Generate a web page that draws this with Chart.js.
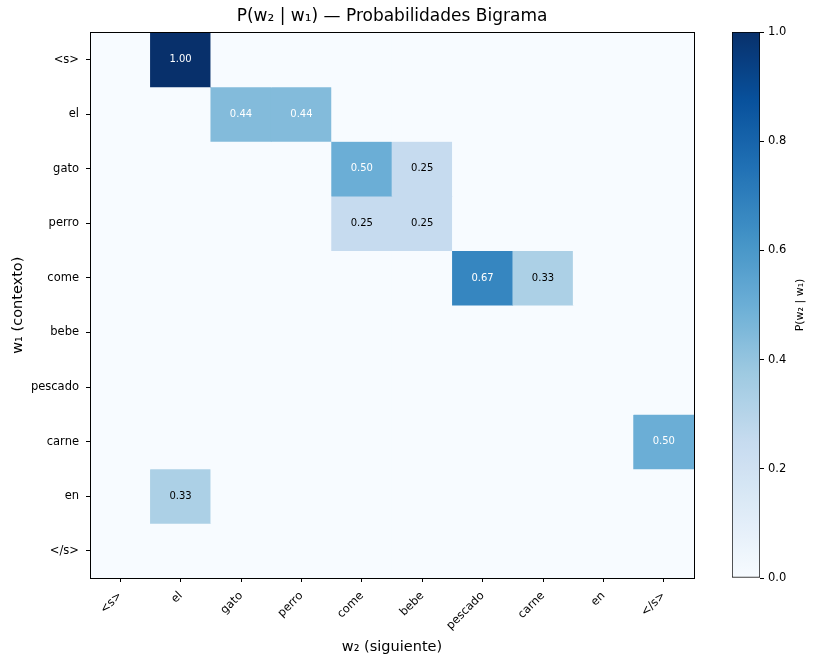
<!DOCTYPE html>
<html>
<head>
<meta charset="utf-8">
<script src="https://cdn.jsdelivr.net/npm/chart.js@4.4.0/dist/chart.umd.min.js"></script>
<style>
    html, body { margin: 0; padding: 0; background: #fff; }
    #wrap { position: relative; width: 817px; height: 662px; }
    #heat { position: absolute; left: 0; top: 0; }
    #cbar { position: absolute; left: 700px; top: 0; }
</style>
</head>
<body>
<div id="wrap">
    <canvas id="heat" width="817" height="662"></canvas>
    <canvas id="cbar" width="117" height="662"></canvas>
</div>
<script>
// Vocabulary (rows = w1 context, columns = w2 next word)
const words = ['<s>', 'el', 'gato', 'perro', 'come', 'bebe', 'pescado', 'carne', 'en', '</s>'];

// P(w2 | w1), one row per context word
const rowS       = [0, 1.00, 0, 0, 0, 0, 0, 0, 0, 0];
const rowEl      = [0, 0, 0.44, 0.44, 0, 0, 0, 0, 0, 0];
const rowGato    = [0, 0, 0, 0, 0.50, 0.25, 0, 0, 0, 0];
const rowPerro   = [0, 0, 0, 0, 0.25, 0.25, 0, 0, 0, 0];
const rowCome    = [0, 0, 0, 0, 0, 0, 0.67, 0.33, 0, 0];
const rowBebe    = [0, 0, 0, 0, 0, 0, 0, 0, 0, 0];
const rowPescado = [0, 0, 0, 0, 0, 0, 0, 0, 0, 0];
const rowCarne   = [0, 0, 0, 0, 0, 0, 0, 0, 0, 0.50];
const rowEn      = [0, 0.33, 0, 0, 0, 0, 0, 0, 0, 0];
const rowEnd     = [0, 0, 0, 0, 0, 0, 0, 0, 0, 0];
const probs = [rowS, rowEl, rowGato, rowPerro, rowCome, rowBebe, rowPescado, rowCarne, rowEn, rowEnd];

const colorbarTicks = [0, 0.2, 0.4, 0.6, 0.8, 1.0];

// matplotlib "Blues" colormap stops
const bluesStops = ['#f7fbff', '#deebf7', '#c6dbef', '#9ecae1', '#6baed6', '#4292c6', '#2171b5', '#08519c', '#08306b'];

function hexToRgb(h) {
    return [parseInt(h.slice(1, 3), 16), parseInt(h.slice(3, 5), 16), parseInt(h.slice(5, 7), 16)];
}

function blues(v) {
    const t = Math.max(0, Math.min(1, v)) * (bluesStops.length - 1);
    const i = Math.min(Math.floor(t), bluesStops.length - 2);
    const f = t - i;
    const a = hexToRgb(bluesStops[i]);
    const b = hexToRgb(bluesStops[i + 1]);
    const c = a.map((x, k) => Math.round(x + (b[k] - x) * f));
    return `rgb(${c[0]}, ${c[1]}, ${c[2]})`;
}

const FONT = "'DejaVu Sans', sans-serif";

// one floating-bar dataset per row, each bar spans one cell
const datasets = probs.map((row, r) => ({
    data: row.map(() => [r - 0.5, r + 0.5]),
    backgroundColor: row.map(v => blues(v)),
    borderWidth: 0,
    barPercentage: 1.0,
    categoryPercentage: 1.0,
    grouped: false
}));

// fill the plot with the zero colour, write cell values, draw the frame
const heatPlugin = {
    id: 'heatExtras',
    beforeDatasetsDraw(chart) {
        const { ctx, chartArea: a } = chart;
        ctx.save();
        ctx.fillStyle = blues(0);
        ctx.fillRect(a.left, a.top, a.right - a.left, a.bottom - a.top);
        ctx.restore();
    },
    afterDatasetsDraw(chart) {
        const { ctx, scales } = chart;
        ctx.save();
        ctx.font = '10px ' + FONT;
        ctx.textAlign = 'center';
        ctx.textBaseline = 'middle';
        probs.forEach((row, r) => {
            row.forEach((v, c) => {
                if (v <= 0) return;
                ctx.fillStyle = v > 0.4 ? '#ffffff' : '#000000';
                ctx.fillText(v.toFixed(2), scales.x.getPixelForValue(c), scales.y.getPixelForValue(r));
            });
        });
        ctx.restore();
    },
    afterDraw(chart) {
        const { ctx, chartArea: a } = chart;
        ctx.save();
        ctx.strokeStyle = '#000';
        ctx.lineWidth = 1;
        ctx.strokeRect(Math.round(a.left) + 0.5, Math.round(a.top) + 0.5,
            Math.round(a.right - a.left), Math.round(a.bottom - a.top));
        ctx.restore();
    }
};

new Chart(document.getElementById('heat'), {
    type: 'bar',
    data: { labels: words, datasets: datasets },
    options: {
        responsive: false,
        animation: false,
        layout: { padding: { left: 0, right: 123, top: 0, bottom: 0 } },
        scales: {
            x: {
                type: 'category',
                offset: true,
                grid: { display: true, drawOnChartArea: false, offset: false, color: '#000', tickLength: 4 },
                border: { display: false },
                ticks: {
                    color: '#000',
                    font: { family: FONT, size: 11.5 },
                    minRotation: 45,
                    maxRotation: 45,
                    autoSkip: false,
                    padding: 7
                },
                title: {
                    display: true,
                    text: 'w\u2082 (siguiente)',
                    color: '#000',
                    font: { family: FONT, size: 14.5 },
                    padding: { top: 4, bottom: 6 }
                },
                afterFit(scale) { scale.height = 84; }
            },
            y: {
                type: 'linear',
                reverse: true,
                min: -0.5,
                max: 9.5,
                grid: { display: true, drawOnChartArea: false, color: '#000', tickLength: 4 },
                border: { display: false },
                afterBuildTicks(scale) { scale.ticks = words.map((w, i) => ({ value: i })); },
                ticks: {
                    color: '#000',
                    font: { family: FONT, size: 11.5 },
                    padding: 7,
                    callback: v => words[v]
                },
                title: {
                    display: true,
                    text: 'w\u2081 (contexto)',
                    color: '#000',
                    font: { family: FONT, size: 14.5 },
                    padding: { top: 10, bottom: 0 }
                },
                afterFit(scale) { scale.width = 90; }
            }
        },
        plugins: {
            legend: { display: false },
            tooltip: { enabled: false },
            title: {
                display: true,
                fullSize: false,
                text: 'P(w\u2082 | w\u2081) \u2014 Probabilidades Bigrama',
                color: '#000',
                font: { family: FONT, size: 17, weight: 'normal' },
                padding: { top: 6, bottom: 6 }
            }
        }
    },
    plugins: [heatPlugin]
});

// colour bar: one floating bar filled with the colormap gradient
const cbarLabelPlugin = {
    id: 'cbarLabel',
    afterDraw(chart) {
        const { ctx, chartArea: a } = chart;
        ctx.save();
        ctx.translate(100, (a.top + a.bottom) / 2);
        ctx.rotate(-Math.PI / 2);
        ctx.font = '11px ' + FONT;
        ctx.fillStyle = '#000';
        ctx.textAlign = 'center';
        ctx.textBaseline = 'middle';
        ctx.fillText('P(w\u2082 | w\u2081)', 0, 0);
        ctx.restore();
    }
};

new Chart(document.getElementById('cbar'), {
    type: 'bar',
    data: {
        labels: [''],
        datasets: [{
            data: [[0, 1]],
            backgroundColor(context) {
                const a = context.chart.chartArea;
                if (!a) return bluesStops[0];
                const g = context.chart.ctx.createLinearGradient(0, a.bottom, 0, a.top);
                for (let k = 0; k <= 40; k++) g.addColorStop(k / 40, blues(k / 40));
                return g;
            },
            borderColor: '#000',
            borderWidth: 1,
            borderSkipped: false,
            barPercentage: 1.0,
            categoryPercentage: 1.0
        }]
    },
    options: {
        responsive: false,
        animation: false,
        layout: { padding: { left: 32, right: 0, top: 32, bottom: 84 } },
        scales: {
            x: { display: false },
            y: {
                position: 'right',
                min: 0,
                max: 1,
                afterBuildTicks(scale) { scale.ticks = colorbarTicks.map(v => ({ value: v })); },
                grid: { display: true, drawOnChartArea: false, color: '#000', tickLength: 4 },
                border: { display: false },
                ticks: {
                    color: '#000',
                    font: { family: FONT, size: 11.5 },
                    padding: 4,
                    callback: v => v.toFixed(1)
                },
                afterFit(scale) { scale.width = 57; }
            }
        },
        plugins: { legend: { display: false }, tooltip: { enabled: false } }
    },
    plugins: [cbarLabelPlugin]
});
</script>
</body>
</html>
